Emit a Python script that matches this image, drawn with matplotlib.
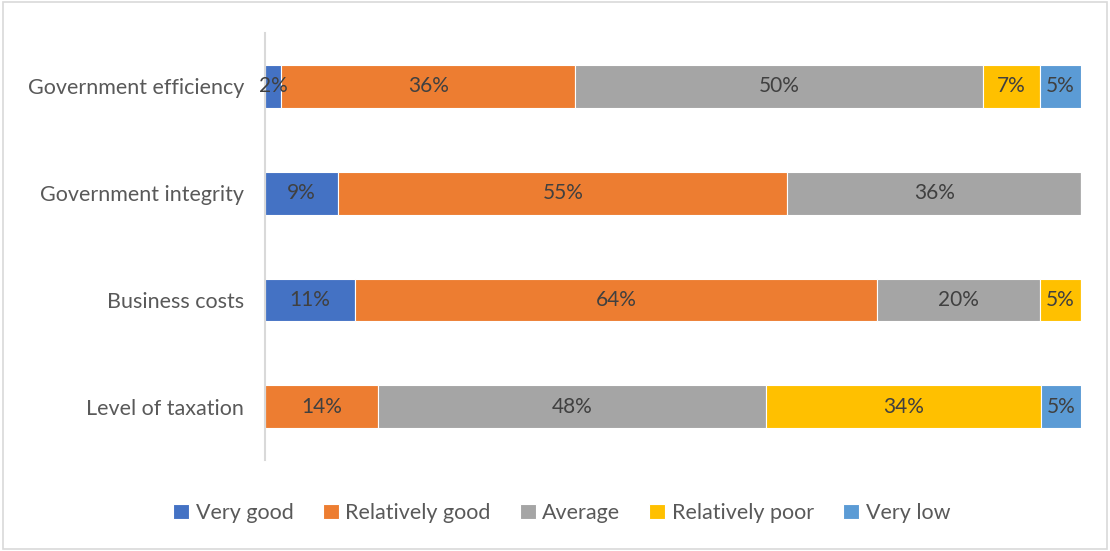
import matplotlib.pyplot as plt
import numpy as np
from matplotlib.patches import Rectangle

plt.rcParams['font.family'] = ['Lato', 'DejaVu Sans']

# survey categories, top to bottom
categories = ["Government efficiency", "Government integrity",
              "Business costs", "Level of taxation"]
ratings = ["Very good", "Relatively good", "Average", "Relatively poor", "Very low"]
colors = ["#4472C4", "#ED7D31", "#A5A5A5", "#FFC000", "#5B9BD5"]

# percent share of each rating per category (0 = no answer in that rating)
very_good = [2, 9, 11, 0]
relatively_good = [36, 55, 64, 14]
average = [50, 36, 20, 48]
relatively_poor = [7, 0, 5, 34]
very_low = [5, 0, 0, 5]

series = np.array([very_good, relatively_good, average, relatively_poor, very_low], dtype=float)
# 100% stacked: scale each row to its own total
shares = series / series.sum(axis=0) * 100

fig = plt.figure(figsize=(11.1, 5.51), dpi=100)
ax = fig.add_axes([0.2387, 0.165, 0.7352, 0.775])

y = np.arange(len(categories))
left = np.zeros(len(categories))
for i, name in enumerate(ratings):
    ax.barh(y, shares[i], left=left, height=0.4, color=colors[i],
            edgecolor="white", linewidth=0.8, label=name)
    for j in range(len(categories)):
        if series[i, j] > 0:
            ax.text(left[j] + shares[i, j] / 2, y[j], "%d%%" % series[i, j],
                    ha="center", va="center", fontsize=15, color="#404040")
    left += shares[i]

ax.set_xlim(0, 100)
ax.set_ylim(len(categories) - 0.5, -0.5)
ax.set_yticks(y)
ax.set_yticklabels(categories, fontsize=15.5, color="#595959")
ax.tick_params(axis="y", length=0, pad=15)
ax.set_xticks([])
for side in ["top", "right", "bottom"]:
    ax.spines[side].set_visible(False)
ax.spines["left"].set_color("#D9D9D9")
ax.spines["left"].set_linewidth(1.5)

leg = fig.legend(loc="center", bbox_to_anchor=(0.506, 0.069), ncol=5, frameon=False,
                 fontsize=15.5, handlelength=0.75, handleheight=0.75, handletextpad=0.3,
                 columnspacing=1.35)
for t in leg.get_texts():
    t.set_color("#595959")

# light outer border
fig.patches.append(Rectangle((0.003, 0.003), 0.994, 0.994, transform=fig.transFigure,
                             fill=False, edgecolor="#D9D9D9", linewidth=1.2))

fig.savefig("out.png", dpi=100)
